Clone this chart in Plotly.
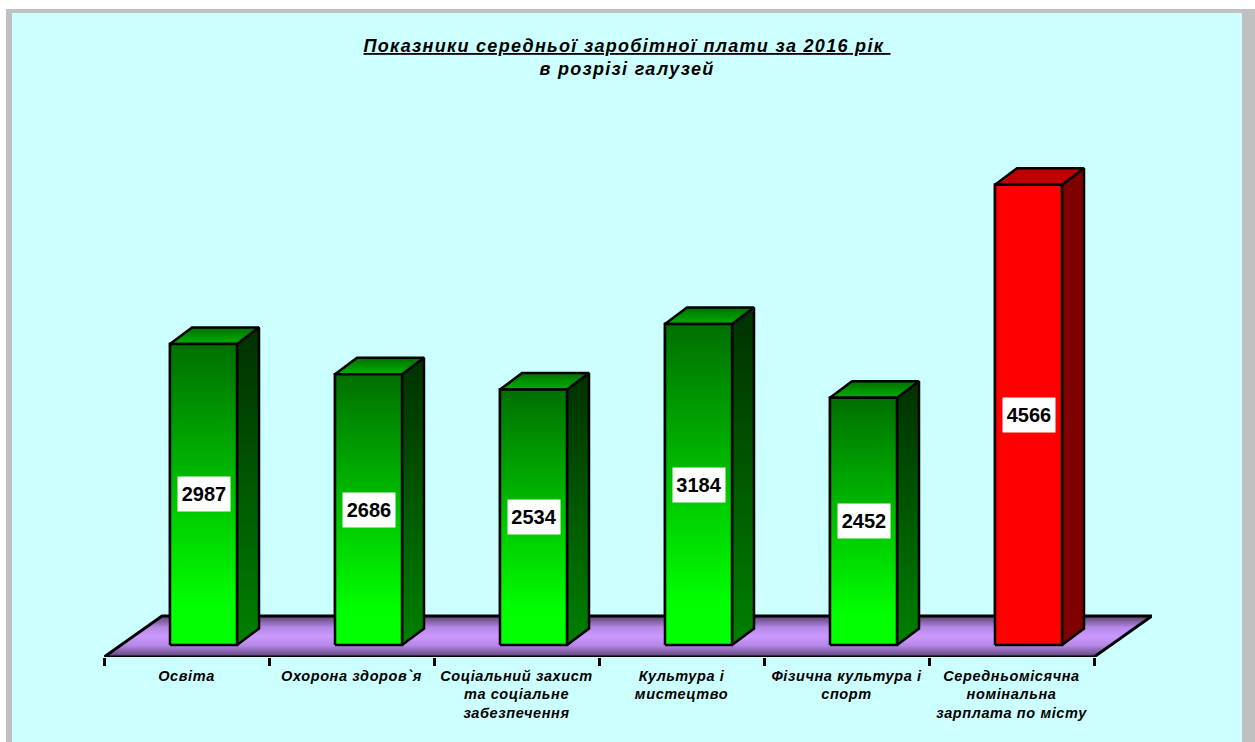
import plotly.graph_objects as go

categories = ["Освіта", "Охорона здоров`я", "Соціальний захист<br>та соціальне<br>забезпечення",
              "Культура і<br>мистецтво", "Фізична культура і<br>спорт",
              "Середньомісячна<br>номінальна<br>зарплата по місту"]
values = [2987, 2686, 2534, 3184, 2452, 4566]
title_text = "<u>Показники середньої заробітної плати за 2016 рік </u><br>в розрізі галузей"

W, H = 1255, 742
L, R, T, B = 104, 1152, 100, 657           # plot area in page pixels
PX_PER_CAT = 165.0
PX_PER_VAL = 0.1008
x_range = [-0.5, -0.5 + (R - L) / PX_PER_CAT]
y0 = -12 / PX_PER_VAL
y_range = [y0, y0 + (B - T) / PX_PER_VAL]
BAR_LEFT = -0.1
BAR_W = 67 / PX_PER_CAT
DX = 22 / PX_PER_CAT
DY = 16.5 / PX_PER_VAL
FLOOR_DX = 58 / PX_PER_CAT
FLOOR_BACK = 29 / PX_PER_VAL

GREEN = dict(front=["#00ff00", "#00ff00", "#006f00"], side=["#008000", "#003000"], top=["#00b000", "#007000"], base="#00a000")
RED = dict(front=["#ff0000", "#ff0000", "#ff0000"], side=["#800000", "#800000"], top=["#c00000", "#c00000"], base="#ff0000")
LINE = dict(color="black", width=2.5)


def scale(cols):
    n = len(cols) - 1
    return [[0.0, cols[0]], [0.13, cols[1]], [1.0, cols[2]]] if n == 2 else [[0.0, cols[0]], [1.0, cols[1]]]


def face(xs, ys, cols):
    return go.Scatter(x=xs + xs[:1], y=ys + ys[:1], xaxis="x2", yaxis="y", mode="lines", line=LINE,
                      fill="toself", fillgradient=dict(type="vertical", colorscale=scale(cols)),
                      hoverinfo="skip", showlegend=False)


fig = go.Figure()
styles = [RED if v == max(values) else GREEN for v in values]
fig.add_trace(go.Bar(x=categories, y=values, width=BAR_W, offset=BAR_LEFT,
                     marker=dict(color=[s["base"] for s in styles], line=dict(color="black", width=2.5)),
                     showlegend=False))

# floor
fig.add_trace(go.Scatter(
    x=[-0.5, 5.5, 5.5 + FLOOR_DX, -0.5 + FLOOR_DX, -0.5], xaxis="x2", yaxis="y",
    y=[y0, y0, FLOOR_BACK, FLOOR_BACK, y0], mode="lines", line=dict(color="black", width=3), fill="toself",
    fillgradient=dict(type="vertical", colorscale=[[0, "#5a4070"], [0.28, "#b488e6"], [0.5, "#cc99ff"], [0.72, "#b488e6"], [1, "#5a4070"]]),
    hoverinfo="skip", showlegend=False))

for i, (v, s) in enumerate(zip(values, styles)):
    l = i + BAR_LEFT
    r = l + BAR_W
    fig.add_trace(face([r, r + DX, r + DX, r], [0, DY, v + DY, v], s["side"]))
    fig.add_trace(face([l, r, r + DX, l + DX], [v, v, v + DY, v + DY], s["top"]))
    fig.add_trace(face([l, r, r, l], [0, 0, v, v], s["front"]))


def px_x(p):
    return (p - L) / (R - L)


def px_y(p):
    return (B - p) / (B - T)


fig.update_layout(
    width=W, height=H, autosize=False,
    margin=dict(l=L, r=W - R, t=T, b=H - B, pad=0),
    paper_bgcolor="white", plot_bgcolor="rgba(0,0,0,0)",
    font=dict(family="Liberation Sans", color="black"),
    title=dict(text=title_text, x=627 / W, xanchor="center", y=1 - 52 / H, yanchor="top",
               font=dict(size=18, family="Liberation Sans", color="black", weight="bold", style="italic")),
    xaxis=dict(type="category", categoryorder="array", categoryarray=categories, range=x_range,
               tickson="boundaries", ticks="outside", ticklen=8, tickwidth=2.5, tickcolor="black",
               showline=False, showgrid=False, zeroline=False, tickangle=0, dtick=1, ticklabelstandoff=8,
               tickfont=dict(size=14.5, family="Liberation Sans", color="black", weight="bold", style="italic"),
               fixedrange=True),
    xaxis2=dict(overlaying="x", range=x_range, visible=False, fixedrange=True),
    yaxis=dict(range=y_range, visible=False, fixedrange=True),
    shapes=[
        dict(type="rect", xref="paper", yref="paper", layer="below", x0=px_x(6), x1=px_x(W), y0=px_y(9), y1=px_y(H),
             fillcolor="#c0c0c0", line=dict(width=0)),
        dict(type="rect", xref="paper", yref="paper", layer="below", x0=px_x(12), x1=px_x(1242), y0=px_y(13), y1=px_y(H),
             fillcolor="#ccffff", line=dict(width=0)),
    ],
    annotations=[
        dict(x=i + BAR_LEFT + BAR_W / 2, y=v / 2, xref="x2", yref="y", text=f"<b>{v}</b>", showarrow=False,
             bgcolor="white", width=50, height=32, font=dict(size=20, family="Liberation Sans", color="black"))
        for i, v in enumerate(values)
    ],
)
fig.update_traces(selector=dict(type="bar"), hoverinfo="x+y")
css = ".gtitle{letter-spacing:1.3px}.xtick text{letter-spacing:.6px}"
fig.write_html("out.html", config=dict(displayModeBar=False),
               post_script="document.body.style.margin='0';document.body.style.overflow='hidden';"
                           "var s=document.createElement('style');s.textContent='" + css + "';document.head.appendChild(s);")
